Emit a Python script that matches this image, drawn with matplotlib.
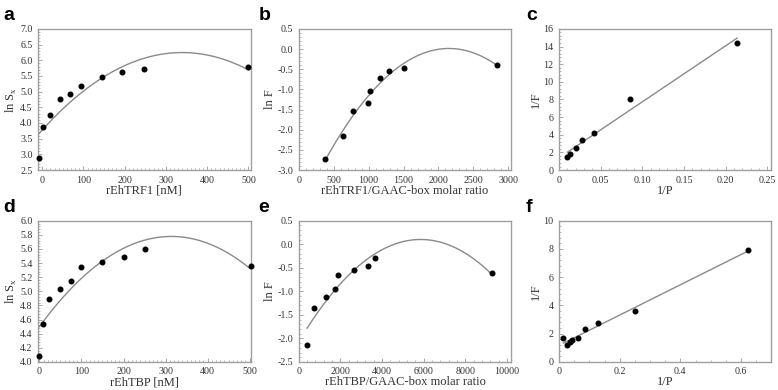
import numpy as np
import matplotlib.pyplot as plt
from matplotlib.ticker import AutoMinorLocator

# panel a: rEhTRF1 concentration vs ln Sx
a_x = [-8, 2, 18, 43, 67, 94, 144, 194, 246, 500]
a_y = [2.89, 3.86, 4.25, 4.75, 4.91, 5.18, 5.47, 5.64, 5.71, 5.78]
# panel b: rEhTRF1/GAAC-box molar ratio vs ln F
b_x = [376, 632, 777, 989, 1022, 1162, 1297, 1510, 2831]
b_y = [-2.73, -2.16, -1.53, -1.34, -1.05, -0.73, -0.54, -0.47, -0.39]
# panel c: 1/P vs 1/F
c_x = [0.010, 0.0137, 0.0209, 0.0281, 0.0422, 0.0852, 0.2138]
c_y = [1.44, 1.82, 2.53, 3.40, 4.24, 8.06, 14.45]
# panel d: rEhTBP concentration vs ln Sx
d_x = [-2, 8, 24, 50, 74, 99, 150, 200, 251, 502]
d_y = [4.09, 4.54, 4.89, 5.04, 5.14, 5.34, 5.42, 5.48, 5.60, 5.36]
# panel e: rEhTBP/GAAC-box molar ratio vs ln F
e_x = [402, 740, 1286, 1736, 1897, 2637, 3312, 3650, 9276]
e_y = [-2.14, -1.36, -1.11, -0.94, -0.65, -0.54, -0.47, -0.30, -0.62]
# panel f: 1/P vs 1/F
f_x = [0.0146, 0.027, 0.035, 0.044, 0.064, 0.0854, 0.127, 0.2506, 0.6236]
f_y = [1.68, 1.20, 1.43, 1.54, 1.70, 2.35, 2.78, 3.61, 7.91]

plt.rcParams['font.family'] = 'Liberation Serif'
plt.rcParams['axes.unicode_minus'] = False

fig = plt.figure(figsize=(7.78, 3.9), dpi=100)

W = [0.049, 0.384, 0.7185]
LAB_X = [0.004, 0.332, 0.676]
Bt, Bb = 0.564, 0.072
panels = [
    ('a', a_x, a_y, 2, (-10, 505), (2.5, 7.0), np.arange(0, 501, 100), np.arange(2.5, 7.01, 0.5), '%.1f', 'rEhTRF1 [nM]', r'ln S$_\mathregular{x}$', (-10, 500), 10),
    ('b', b_x, b_y, 2, (0, 3040), (-3.0, 0.5), np.arange(0, 3001, 500), np.arange(-3.0, 0.51, 0.5), '%.1f', 'rEhTRF1/GAAC-box molar ratio', 'ln F', None, 5),
    ('c', c_x, c_y, 1, (0, 0.255), (0, 16), np.arange(0, 0.251, 0.05), np.arange(0, 16.1, 2), '%d', '1/P', '1/F', None, 5),
    ('d', d_x, d_y, 2, (-3, 502), (4.0, 6.0), np.arange(0, 501, 100), np.arange(4.0, 6.01, 0.2), '%.1f', 'rEhTBP [nM]', r'ln S$_\mathregular{x}$', (0, 500), 10),
    ('e', e_x, e_y, 2, (0, 10200), (-2.5, 0.5), np.arange(0, 10001, 2000), np.arange(-2.5, 0.51, 0.5), '%.1f', 'rEhTBP/GAAC-box molar ratio', 'ln F', None, 5),
    ('f', f_x, f_y, 1, (0, 0.7), (0, 10), np.arange(0, 0.61, 0.2), np.arange(0, 10.1, 2), '%d', '1/P', '1/F', None, 4),
]

for i, (lab, x, y, deg, xl, yl, xt, yt, yfmt, xlab, ylab, span, nminor) in enumerate(panels):
    col = i % 3
    row = i // 3
    left = W[col]
    w = 0.273
    bottom = Bt if row == 0 else Bb
    ax = fig.add_axes([left, bottom, w, 0.362])
    x = np.array(x)
    y = np.array(y)
    # trendline, fitted to the points
    coef = np.polyfit(x, y, deg)
    if span is None:
        span = (x.min(), x.max())
    xx = np.linspace(span[0], span[1], 200)
    ax.plot(xx, np.polyval(coef, xx), color='#8a8a8a', lw=1.0, zorder=2)
    ax.plot(x, y, 'o', color='black', ms=3.3, zorder=3, clip_on=False)
    ax.set_xlim(xl)
    ax.set_ylim(yl)
    ax.set_xticks(xt)
    ax.set_yticks(yt)
    if lab == 'f':
        ax.set_xticklabels(['0', '0.2', '0.4', '0.6'])
    elif lab == 'c':
        ax.set_xticklabels(['%.2f' % v if v > 0 else '0' for v in xt])
    else:
        ax.set_xticklabels(['%d' % v for v in xt])
    ax.set_yticklabels([yfmt % v for v in yt])
    ax.xaxis.set_minor_locator(AutoMinorLocator(nminor))
    ax.yaxis.set_minor_locator(AutoMinorLocator(5))
    ax.tick_params(which='both', direction='in', colors='#999999', labelcolor='#333333', labelsize=7.2, top=False, right=False)
    ax.tick_params(which='major', length=3, width=0.6)
    ax.tick_params(which='minor', length=1.5, width=0.5)
    ax.tick_params(axis='x', which='major', pad=4)
    ax.tick_params(axis='y', which='major', pad=4)
    for s in ax.spines.values():
        s.set_color('#a0a0a0')
        s.set_linewidth(1.0)
    ax.set_xlabel(xlab, fontsize=9, color='#333333', labelpad=0)
    ax.set_ylabel(ylab, fontsize=9, color='#333333', labelpad=1)
    fig.text(LAB_X[col], bottom + 0.395, lab, fontsize=14, fontweight='bold',
             family='Liberation Sans', va='center', ha='left')

fig.savefig('out.png', dpi=100)
